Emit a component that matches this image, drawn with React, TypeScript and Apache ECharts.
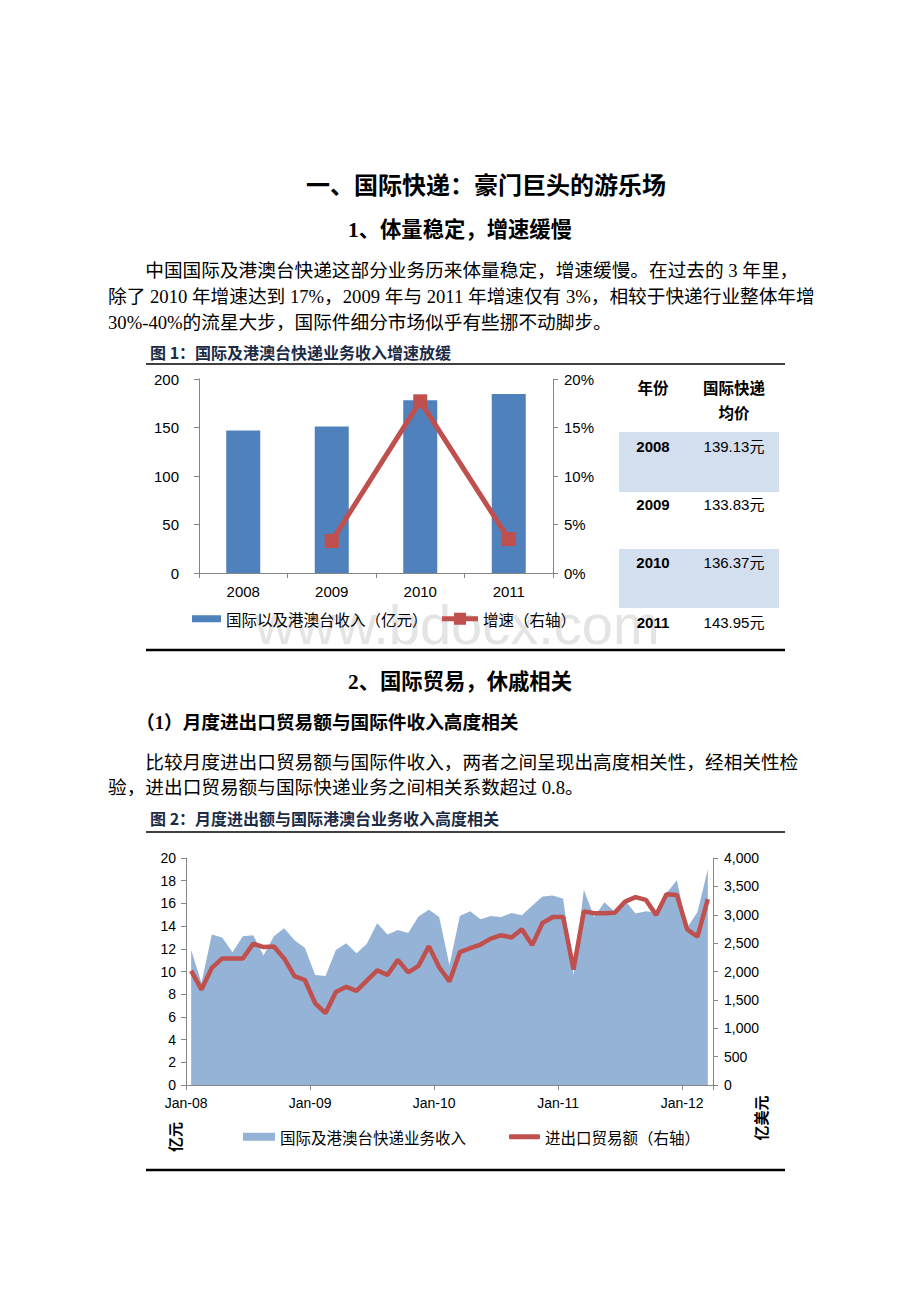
import React, { useEffect, useRef } from "react";
import * as echarts from "echarts";

// ---------- data ----------
const YEARS = ["2008", "2009", "2010", "2011"];
const INTL_REVENUE = [147, 151, 178, 184.5]; // 亿元
const GROWTH = [null, 0.033, 0.177, 0.035]; // 增速（右轴）

const TABLE_YEARS = ["2008", "2009", "2010", "2011"];
const TABLE_PRICES = ["139.13元", "133.83元", "136.37元", "143.95元"];

const MONTHS = ["Jan", "Feb", "Mar", "Apr", "May", "Jun", "Jul", "Aug", "Sep", "Oct", "Nov", "Dec"];
const YEAR_SUFFIX = ["08", "09", "10", "11", "12"];
const MONTH_LABELS = YEAR_SUFFIX.flatMap((y) => MONTHS.map((m) => `${m}-${y}`)).slice(0, 51);

const EXPRESS_REVENUE = [
  11.9, 9.0, 13.25, 13.0, 11.7, 13.1, 13.2, 11.4, 13.1, 13.8, 12.75, 12.1,
  9.7, 9.6, 11.9, 12.5, 11.6, 12.45, 14.25, 13.25, 13.65, 13.4, 14.85, 15.45,
  14.8, 10.55, 14.9, 15.3, 14.6, 14.9, 14.8, 15.15, 14.95, 15.8, 16.6, 16.7,
  16.4, 9.7, 17.2, 14.8, 16.1, 15.25, 16.25, 15.1, 15.3, 15.2, 16.9, 18.05,
  13.85, 15.25, 19.0,
];
const TRADE_VALUE = [
  2010, 1680, 2065, 2230, 2230, 2230, 2490, 2430, 2440, 2230, 1920, 1850,
  1440, 1265, 1640, 1730, 1660, 1840, 2020, 1940, 2205, 1985, 2100, 2445,
  2075, 1825, 2340, 2410, 2475, 2580, 2640, 2600, 2745, 2465, 2855, 2960,
  2960, 2035, 3060, 3025, 3027, 3037, 3232, 3310, 3262, 2996, 3363, 3350,
  2743, 2612, 3274,
];

const S1_BAR = "国际以及港澳台收入（亿元）";
const S1_LINE = "增速（右轴）";
const S2_AREA = "国际及港澳台快递业务收入";
const S2_LINE = "进出口贸易额（右轴）";

// ---------- styles ----------
const SERIF = "'Liberation Serif', 'Noto Sans CJK SC', serif";
const CJK = "'Noto Sans CJK SC', sans-serif";
const SANS = "'Liberation Sans', Arial, sans-serif";
const AXIS_GRAY = "#868686";
const BLUE_BAR = "#4F81BD";
const BLUE_AREA = "#95B3D7";
const RED = "#C0504D";
const TITLE_COLOR = "#1c2b45";
const LINE_SQUARE_ICON = "path://M0,4.5 L36,4.5 L36,9.5 L0,9.5 Z M12,1 L24,1 L24,13 L12,13 Z";

function txt(text: string, x: number, y: number, o: any = {}) {
  return {
    type: "text",
    x,
    y,
    z: o.z ?? 10,
    rotation: o.rotation ?? 0,
    style: {
      text,
      fill: o.fill ?? "#000",
      fontSize: o.size ?? 18.67,
      fontFamily: o.family ?? SERIF,
      fontWeight: o.weight ?? "normal",
      align: o.align ?? "left",
      verticalAlign: "middle",
      textAlign: o.align ?? "left",
      textVerticalAlign: "middle",
    },
  };
}
function hline(x1: number, x2: number, y: number, w: number, color = "#000") {
  return { type: "line", z: 5, shape: { x1, y1: y, x2, y2: y }, style: { stroke: color, lineWidth: w } };
}
function rect(x: number, y: number, w: number, h: number, fill: string) {
  return { type: "rect", z: 1, shape: { x, y, width: w, height: h }, style: { fill } };
}

const axisLineStyle = { show: true, lineStyle: { color: AXIS_GRAY, width: 1 } };
const tickStyle = { show: true, length: 5, lineStyle: { color: AXIS_GRAY, width: 1 } };
const legendText = { color: "#000", fontSize: 15.5, fontFamily: CJK };

export default function App() {
  const ref = useRef<HTMLDivElement>(null);
  useEffect(() => {
    if (!ref.current) return;
    const chart = echarts.init(ref.current, undefined, { renderer: "svg" });

    const rowCenters = [446, 504, 562, 622];
    const tableEls: any[] = [
      rect(619, 432, 160, 60, "#D3DFEE"),
      rect(619, 549, 160, 59, "#D3DFEE"),
      txt("年份", 653, 387, { family: CJK, size: 15.5, weight: "bold", align: "center" }),
      txt("国际快递", 734, 387, { family: CJK, size: 15.5, weight: "bold", align: "center" }),
      txt("均价", 734, 412, { family: CJK, size: 15.5, weight: "bold", align: "center" }),
    ];
    TABLE_YEARS.forEach((yr, i) => {
      tableEls.push(txt(yr, 653, rowCenters[i], { family: SANS, size: 15, weight: "bold", align: "center" }));
      tableEls.push(txt(TABLE_PRICES[i], 734, rowCenters[i], { family: SANS + ", " + CJK, size: 15, align: "center" }));
    });

    const graphic: any[] = [
      {
        type: "text",
        x: 255,
        y: 652,
        z: 0,
        style: {
          text: "www.bdocx.com",
          fill: "#e4e4e4",
          fontSize: 56,
          fontFamily: SANS,
          align: "left",
          verticalAlign: "bottom",
          textAlign: "left",
          textVerticalAlign: "bottom",
        },
      },
      txt("一、国际快递：豪门巨头的游乐场", 486, 186, { size: 24, weight: "bold", align: "center" }),
      txt("1、体量稳定，增速缓慢", 460, 230, { size: 21.33, weight: "bold", align: "center" }),
      txt("中国国际及港澳台快递这部分业务历来体量稳定，增速缓慢。在过去的 3 年里，", 145.3, 270),
      txt("除了 2010 年增速达到 17%，2009 年与 2011 年增速仅有 3%，相较于快递行业整体年增", 108, 296),
      txt("30%-40%的流星大步，国际件细分市场似乎有些挪不动脚步。", 108, 322),
      txt("图 1：国际及港澳台快递业务收入增速放缓", 150, 352, { family: CJK, size: 16, weight: "bold", fill: TITLE_COLOR }),
      hline(146, 785, 364, 1.3),
      hline(146, 785, 650, 2.5),
      ...tableEls,
      txt("2、国际贸易，休戚相关", 460, 682, { size: 21.33, weight: "bold", align: "center" }),
      txt("（1）月度进出口贸易额与国际件收入高度相关", 136, 722, { weight: "bold" }),
      txt("比较月度进出口贸易额与国际件收入，两者之间呈现出高度相关性，经相关性检", 145.3, 762),
      txt("验，进出口贸易额与国际快递业务之间相关系数超过 0.8。", 108, 787),
      txt("图 2：月度进出额与国际港澳台业务收入高度相关", 150, 818, { family: CJK, size: 16, weight: "bold", fill: TITLE_COLOR }),
      hline(146, 785, 832, 1.3),
      hline(146, 785, 1170, 2.5),
      txt("亿元", 174, 1137, { family: CJK, size: 15, weight: "bold", align: "center", rotation: Math.PI / 2 }),
      txt("亿美元", 760, 1118, { family: CJK, size: 15, weight: "bold", align: "center", rotation: Math.PI / 2 }),
    ];

    const option: any = {
      animation: false,
      backgroundColor: "#ffffff",
      textStyle: { fontFamily: SANS },
      grid: [
        { left: 199, right: 367, top: 379, bottom: 729 },
        { left: 186, right: 207, top: 858, bottom: 217 },
      ],
      xAxis: [
        {
          type: "category",
          gridIndex: 0,
          data: YEARS,
          boundaryGap: true,
          axisLine: axisLineStyle,
          axisTick: tickStyle,
          axisLabel: { color: "#000", fontSize: 15, fontFamily: SANS, margin: 11 },
        },
        {
          type: "category",
          gridIndex: 1,
          data: MONTH_LABELS,
          boundaryGap: true,
          axisLine: axisLineStyle,
          axisTick: { ...tickStyle, interval: 11 },
          axisLabel: { color: "#000", fontSize: 14, fontFamily: SANS, margin: 11, interval: 11, padding: [0, 10, 0, 0] },
        },
      ],
      yAxis: [
        {
          type: "value",
          gridIndex: 0,
          min: 0,
          max: 200,
          interval: 50,
          axisLine: axisLineStyle,
          axisTick: tickStyle,
          splitLine: { show: false },
          axisLabel: { color: "#000", fontSize: 15, fontFamily: SANS, margin: 20 },
        },
        {
          type: "value",
          gridIndex: 0,
          position: "right",
          min: 0,
          max: 0.2,
          interval: 0.05,
          axisLine: axisLineStyle,
          axisTick: tickStyle,
          splitLine: { show: false },
          axisLabel: {
            color: "#000",
            fontSize: 15,
            fontFamily: SANS,
            margin: 11,
            formatter: (v: number) => Math.round(v * 100) + "%",
          },
        },
        {
          type: "value",
          gridIndex: 1,
          min: 0,
          max: 20,
          interval: 2,
          axisLine: axisLineStyle,
          axisTick: tickStyle,
          splitLine: { show: false },
          axisLabel: { color: "#000", fontSize: 14, fontFamily: SANS, margin: 10 },
        },
        {
          type: "value",
          gridIndex: 1,
          position: "right",
          min: 0,
          max: 4000,
          interval: 500,
          axisLine: axisLineStyle,
          axisTick: tickStyle,
          splitLine: { show: false },
          axisLabel: {
            color: "#000",
            fontSize: 14,
            fontFamily: SANS,
            margin: 11,
            formatter: (v: number) => v.toLocaleString("en-US"),
          },
        },
      ],
      legend: [
        {
          data: [{ name: S1_BAR, icon: "rect" }],
          left: 187,
          top: 606,
          itemWidth: 29,
          itemHeight: 7,
          textStyle: legendText,
        },
        {
          data: [{ name: S1_LINE, icon: LINE_SQUARE_ICON }],
          left: 437,
          top: 606,
          itemWidth: 36,
          itemHeight: 14,
          textStyle: legendText,
        },
        {
          data: [{ name: S2_AREA, icon: "rect" }],
          left: 238,
          top: 1124,
          itemWidth: 32,
          itemHeight: 8,
          textStyle: legendText,
        },
        {
          data: [{ name: S2_LINE, icon: "roundRect" }],
          left: 504,
          top: 1124,
          itemWidth: 31,
          itemHeight: 5,
          textStyle: legendText,
        },
      ],
      series: [
        {
          name: S1_BAR,
          type: "bar",
          xAxisIndex: 0,
          yAxisIndex: 0,
          data: INTL_REVENUE,
          barWidth: 34,
          itemStyle: { color: BLUE_BAR },
        },
        {
          name: S1_LINE,
          type: "line",
          xAxisIndex: 0,
          yAxisIndex: 1,
          data: GROWTH,
          symbol: "rect",
          symbolSize: 14,
          lineStyle: { color: RED, width: 5 },
          itemStyle: { color: RED },
        },
        {
          name: S2_AREA,
          type: "line",
          xAxisIndex: 1,
          yAxisIndex: 2,
          data: EXPRESS_REVENUE,
          symbol: "none",
          lineStyle: { width: 0, color: BLUE_AREA },
          itemStyle: { color: BLUE_AREA },
          areaStyle: { color: BLUE_AREA, opacity: 1 },
        },
        {
          name: S2_LINE,
          type: "line",
          xAxisIndex: 1,
          yAxisIndex: 3,
          data: TRADE_VALUE,
          symbol: "none",
          lineStyle: { color: RED, width: 4.5 },
          itemStyle: { color: RED },
        },
      ],
      graphic,
    };
    chart.setOption(option);
    return () => chart.dispose();
  }, []);

  return (
    <div
      ref={ref}
      style={{ position: "absolute", left: 0, top: 0, width: 920, height: 1302, background: "#fff" }}
    />
  );
}
